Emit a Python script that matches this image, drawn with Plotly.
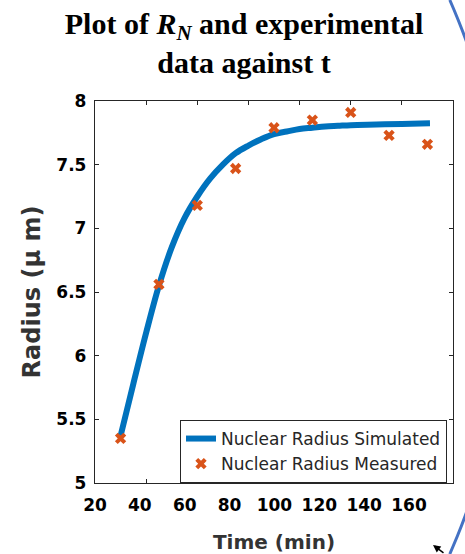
import math
import plotly.graph_objects as go

# Simulated nuclear radius curve
sim_t = [30, 35, 40, 45, 50, 55, 60, 65, 70, 75, 80, 85, 90, 95, 100, 105, 110, 115, 120, 130, 140, 151]
sim_r = [5.37, 5.78, 6.18, 6.55, 6.85, 7.08, 7.25, 7.39, 7.50, 7.59, 7.65, 7.70, 7.74, 7.76, 7.78, 7.79, 7.80, 7.805, 7.81, 7.815, 7.82, 7.825]

# Measured nuclear radius
meas_t = [30, 45, 60, 75, 90, 105, 120, 135, 150]
meas_r = [5.35, 6.56, 7.18, 7.47, 7.79, 7.85, 7.91, 7.73, 7.66]

x_ticks = [20, 40, 60, 80, 100, 120, 140, 160]
x_ticklabels = ["20", "40", "60", "80", "100", "120", "140", "160"]
y_ticks = [5, 5.5, 6, 6.5, 7, 7.5, 8]
y_ticklabels = ["5", "5.5", "6", "6.5", "7", "7.5", "8"]

BLUE = "#0072BD"
ORANGE = "#D95319"
AX = "#262626"

W, H = 465, 554
L, R, T, B = 95, 12, 101, 71
PW, PH = W - L - R, H - T - B


def px(x):
    return (x - L) / PW


def py(y):
    return (H - B - y) / PH


def arc_path(ys, cx=-180.0, cy=277.0, rad=688.0):
    pts = []
    for yy in ys:
        xx = cx + math.sqrt(rad ** 2 - (yy - cy) ** 2)
        pts.append(f"{px(xx):.4f},{py(yy):.4f}")
    return "M " + " L ".join(pts)


fig = go.Figure()
fig.add_trace(go.Scatter(x=sim_t, y=sim_r, mode="lines", name="Nuclear Radius Simulated",
                         line=dict(color=BLUE, width=6, shape="spline")))
fig.add_trace(go.Scatter(x=meas_t, y=meas_r, mode="markers", name="Nuclear Radius Measured",
                         marker=dict(symbol="x", size=10, color=ORANGE)))
# carrier for the label axis
fig.add_trace(go.Scatter(x=[None], y=[None], xaxis="x2", showlegend=False, hoverinfo="skip"))

fig.update_layout(
    width=W, height=H,
    margin=dict(l=L, r=R, t=T, b=B, autoexpand=False),
    paper_bgcolor="white", plot_bgcolor="white",
    title=dict(text="Plot of <i>R</i><sub><i>N</i></sub> and experimental<br>data against t",
               x=244/465, xanchor="center", xref="container",
               y=1-34/554, yanchor="top", yref="container",
               font=dict(family="Liberation Serif", size=30, color="black", weight="bold")),
    xaxis=dict(range=[20, 160], tickvals=x_ticks, showticklabels=False, automargin=False,
               ticks="inside", ticklen=4, tickcolor=AX, showline=True, linecolor=AX, linewidth=1.3,
               mirror="ticks", showgrid=False, zeroline=False,
               title=dict(text="Time (min)", font=dict(family="DejaVu Sans", size=20, color="#333333", weight="bold"),
                          standoff=52)),
    xaxis2=dict(range=[20, 20 + PW / 2.243], overlaying="x", side="bottom", tickvals=x_ticks,
                ticktext=x_ticklabels, automargin=False, ticklabelstandoff=10,
                ticks="", showline=False, showgrid=False, zeroline=False,
                tickfont=dict(family="DejaVu Sans", size=17, color="black", weight="bold")),
    yaxis=dict(range=[5, 8], tickvals=y_ticks, ticktext=y_ticklabels, automargin=False,
               ticks="inside", ticklen=4, tickcolor=AX, showline=True, linecolor=AX, linewidth=1.3,
               mirror="ticks", showgrid=False, zeroline=False, ticklabelstandoff=4,
               tickfont=dict(family="DejaVu Sans", size=17, color="black", weight="bold"),
               title=dict(text="Radius (μ m)", standoff=8,
                          font=dict(family="DejaVu Sans", size=24, color="#333333", weight="bold"))),
    legend=dict(x=px(180), y=py(420), xanchor="left", yanchor="top",
                bgcolor="white", bordercolor=AX, borderwidth=1,
                font=dict(family="DejaVu Sans", size=17, color=AX),
                tracegroupgap=0, itemwidth=30),
    shapes=[
        dict(type="path", xref="paper", yref="paper", path=arc_path([0, 10, 20, 30, 40, 48]),
             line=dict(color="#4472C4", width=3), layer="above"),
        dict(type="path", xref="paper", yref="paper", path=arc_path([508, 516, 526, 536, 546, 554]),
             line=dict(color="#4472C4", width=3), layer="above"),
    ],
    annotations=[dict(xref="paper", yref="paper", x=px(433), y=py(545), ax=12, ay=10,
                      text="", showarrow=True, arrowhead=2, arrowsize=1, arrowwidth=1.5,
                      arrowcolor="black")],
)

fig.write_html("out.html", config={"displayModeBar": False},
               post_script="document.body.style.margin='0';document.body.style.overflow='hidden';")
